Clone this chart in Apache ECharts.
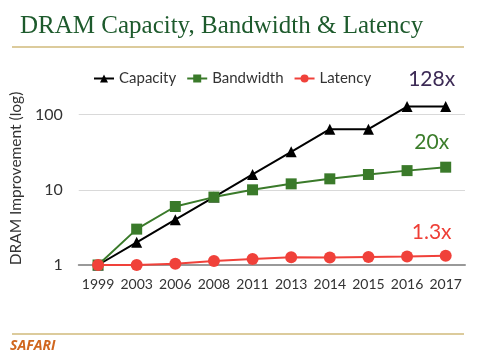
<!DOCTYPE html>
<html><head><meta charset="utf-8">
<script src="https://cdn.jsdelivr.net/npm/echarts@6/dist/echarts.min.js"></script>
<style>html,body{margin:0;padding:0;background:#fff}#c{width:480px;height:360px}</style>
</head><body><div id="c"></div>
<script>
const years = ['1999','2003','2006','2008','2011','2013','2014','2015','2016','2017'];
const capacity = [1, 2, 4, 8, 16, 32, 64, 64, 128, 128];
const bandwidth = [1, 3, 6, 8, 10, 12, 14, 16, 18, 20];
const latency = [1, 1, 1.04, 1.13, 1.2, 1.27, 1.26, 1.28, 1.3, 1.33];
const endLabels = ['128x', '20x', '1.3x'];

const chart = echarts.init(document.getElementById('c'));
function withEnd(arr, text, color, offset) {
  return arr.map((v, i) => i === arr.length - 1 ? {
    value: v,
    label: {show: true, formatter: text, position: 'top', offset: offset, color: color,
      fontSize: 21, fontFamily: 'Lato, sans-serif'}
  } : v);
}
chart.setOption({
  animation: false,
  title: {
    text: 'DRAM Capacity, Bandwidth & Latency', left: 15, top: 9,
    textStyle: {fontFamily: '"Liberation Serif", serif', fontSize: 25, fontWeight: 'normal', color: '#1d5a2c'}
  },
  graphic: [
    {type: 'line', shape: {x1: 12, y1: 47, x2: 464, y2: 47}, style: {stroke: '#dccb9c', lineWidth: 2}},
    {type: 'line', shape: {x1: 12, y1: 334, x2: 464, y2: 334}, style: {stroke: '#dccb9c', lineWidth: 2}},
    {type: 'text', left: 10, top: 339, style: {text: 'SAFARI', fill: '#d0661e', font: 'italic bold 14px "Open Sans", sans-serif'}}
  ],
  legend: {
    top: 66, left: 88, itemGap: 10, itemWidth: 20, itemHeight: 10,
    textStyle: {fontFamily: 'Lato, sans-serif', fontSize: 15, color: '#333'},
    data: ['Capacity', 'Bandwidth', 'Latency']
  },
  grid: {left: 75, right: 15, top: 92, bottom: 95},
  xAxis: {
    type: 'category', data: years, boundaryGap: true,
    axisLine: {lineStyle: {color: '#999', width: 2}},
    axisTick: {show: false},
    axisLabel: {interval: 0, fontFamily: 'Lato, sans-serif', fontSize: 14, color: '#333', margin: 12}
  },
  yAxis: {
    type: 'log', logBase: 10, min: 1, max: 200,
    name: 'DRAM Improvement (log)', nameLocation: 'middle', nameGap: 50,
    nameTextStyle: {fontFamily: 'Lato, sans-serif', fontSize: 15.5, color: '#333'},
    axisLine: {show: false}, axisTick: {show: false},
    axisLabel: {fontFamily: 'Lato, sans-serif', fontSize: 16, color: '#333', margin: 16,
      formatter: v => ([1, 10, 100].indexOf(Math.round(v)) >= 0 && Math.abs(v - Math.round(v)) < 1e-6) ? String(Math.round(v)) : ''},
    splitLine: {lineStyle: {color: ['#d9d9d9', '#d9d9d9', '#d9d9d9', 'rgba(0,0,0,0)']}}
  },
  series: [
    {name: 'Capacity', type: 'line', data: withEnd(capacity, endLabels[0], '#3d2b56', [-14, -6]),
      symbol: 'triangle', symbolSize: 11, color: '#000', lineStyle: {width: 2, color: '#000'}, z: 2},
    {name: 'Bandwidth', type: 'line', data: withEnd(bandwidth, endLabels[1], '#3b7d2b', [-14, -4]),
      symbol: 'rect', symbolSize: 11, color: '#3a7a2a', lineStyle: {width: 2, color: '#3a7a2a'}, z: 3},
    {name: 'Latency', type: 'line', data: withEnd(latency, endLabels[2], '#ee3e36', [-14, -2]),
      symbol: 'circle', symbolSize: 12, color: '#f0413a', lineStyle: {width: 2, color: '#f0413a'}, z: 4}
  ]
});
</script></body></html>
